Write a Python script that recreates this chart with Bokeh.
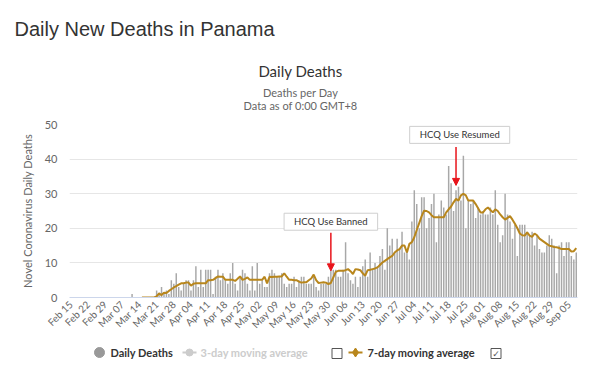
import math
import pandas as pd
from bokeh.plotting import figure
from bokeh.layouts import column
from bokeh.models import (Range1d, FixedTicker, Label, Arrow, NormalHead, ColumnDataSource)
from bokeh.core.properties import value
from bokeh.embed import file_html
from bokeh.resources import INLINE

# ---------------- data ----------------
first_day = "2020-02-15"
daily_deaths = [
    # Feb 15 - Feb 29
    0, 0, 0, 0, 0, 0, 0, 0, 0, 0, 0, 0, 0, 0, 0,
    # Mar
    0, 0, 0, 0, 0, 0, 0, 0, 0, 0, 1, 0, 0, 0, 0, 0, 0, 0, 0, 0,
    2, 1, 3, 1, 2, 1, 5, 4, 7, 3, 2,
    # Apr
    4, 5, 5, 2, 5, 9, 3, 8, 3, 8, 8, 8, 1, 6, 8, 5, 7, 5, 4, 7,
    10, 4, 2, 6, 8, 7, 4, 2, 9, 2,
    # May
    10, 4, 5, 3, 3, 7, 8, 7, 6, 6, 7, 4, 3, 4, 4, 6, 3, 5, 6, 6,
    4, 4, 4, 6, 3, 2, 4, 4, 4, 6, 8,
    # Jun
    8, 8, 6, 6, 8, 16, 7, 5, 4, 6, 3, 6, 9, 11, 6, 13, 8, 10, 9, 12,
    14, 8, 20, 15, 17, 13, 17, 14, 19, 13,
    # Jul
    14, 11, 22, 31, 27, 20, 29, 29, 20, 23, 27, 30, 16, 24, 28, 26, 24, 38, 33, 25,
    31, 32, 28, 41, 20, 28, 27, 28, 23, 26, 24,
    # Aug
    25, 24, 24, 26, 24, 31, 21, 16, 18, 30, 24, 22, 17, 21, 12, 21, 21, 21, 19, 18,
    19, 15, 18, 14, 13, 13, 15, 18, 17, 15, 7,
    # Sep 1 - Sep 8
    15, 16, 12, 16, 16, 12, 11, 13,
]

ma7_first_day = "2020-03-15"
ma7 = [
    # Mar 15 - Mar 31
    0, 0, 0, 0, 0, 0, 0.3, 1.2, 0.7, 1.4, 1.3, 1.9, 2.4, 2.9, 3.3, 3.7, 4.1,
    # Apr
    4.1, 4.3, 4.3, 3.4, 4.0, 4.1, 4.1, 4.1, 4.1, 4.1, 5.0, 5.0, 5.1, 5.6, 6.1, 6.0, 6.0, 5.1, 5.1, 5.1,
    5.1, 4.8, 5.4, 6.1, 5.1, 5.4, 5.8, 5.1, 5.1, 5.1,
    # May
    5.1, 5.1, 5.1, 6.0, 4.1, 6.0, 5.9, 6.0, 6.0, 6.1, 6.1, 7.0, 6.0, 5.1, 5.1, 5.0, 5.0, 4.6, 4.3, 4.4,
    4.4, 5.0, 5.5, 6.6, 5.0, 4.2, 4.3, 4.4, 4.3, 3.9, 4.2,
    # Jun
    5.8, 7.4, 7.7, 7.7, 7.7, 7.9, 8.2, 7.6, 6.8, 8.2, 8.1, 7.9, 7.0, 6.3, 7.9, 8.0, 8.2, 8.4, 8.7, 9.4,
    10.1, 10.6, 11.1, 11.6, 12.0, 13.0, 13.6, 14.0, 15.0, 15.0,
    # Jul
    13.0, 15.5, 16.0, 17.4, 19.5, 21.5, 23.5, 25.1, 25.0, 24.6, 23.8, 23.2, 23.2, 23.2, 23.2, 23.2,
    24.6, 25.5, 26.3, 27.5, 28.5, 28.0, 29.5, 30.0, 29.5, 28.0, 28.0, 28.0, 27.0, 25.8, 24.6,
    # Aug
    24.6, 25.5, 26.0, 25.3, 24.6, 25.5, 25.0, 24.0, 23.2, 22.5, 23.0, 23.5, 22.5, 21.3, 20.0, 18.5,
    18.0, 17.9, 18.8, 17.9, 17.5, 18.5, 18.0, 17.0, 16.5, 16.0, 15.5, 15.0, 14.8, 14.6, 14.5,
    # Sep 1 - Sep 8
    14.3, 14.0, 14.0, 14.0, 14.0, 13.3, 13.4, 14.3,
]

event_dates = ["2020-05-31", "2020-07-21"]
event_labels = ["HCQ Use Banned", "HCQ Use Resumed"]

legend_labels = ["Daily Deaths", "3-day moving average", "7-day moving average"]

# ---------------- derived ----------------
dates = pd.date_range(first_day, periods=len(daily_deaths), freq="D")
xi = list(range(len(dates)))
ma_off = (pd.Timestamp(ma7_first_day) - dates[0]).days
ma_x = [ma_off + k for k in range(len(ma7))]
tick_idx = list(range(0, len(dates), 7))
tick_text = {i: dates[i].strftime("%b %d") for i in tick_idx}
event_x = [(pd.Timestamp(d) - dates[0]).days for d in event_dates]

# ---------------- styling / layout constants ----------------
W = 584
HEAD_H = 116
BL, BR, BT, BB = 69, 7, 8, 41
FRAME_H = 173
MAIN_H = BT + FRAME_H + BB
LEG_H = 24
BAR_COLOR = "#a8a8a8"
MA_COLOR = "#b8861c"
FONT = "Lato"


def blank(h):
    f = figure(width=W, height=h, output_backend="svg", toolbar_location=None,
               x_range=Range1d(0, W), y_range=Range1d(h, 0),
               x_axis_type=None, y_axis_type=None, frame_align=False,
               min_border=0, min_border_left=0, min_border_right=0,
               min_border_top=0, min_border_bottom=0)
    f.outline_line_color = None
    f.xgrid.visible = False
    f.ygrid.visible = False
    return f


# ---------------- header ----------------
head = blank(HEAD_H)
head.text(x=[14], y=[28.5], text=["Daily New Deaths in Panama"], text_font=value("Liberation Sans"),
          text_font_size="20px", text_color="#333333", text_baseline="alphabetic")
head.text(x=[300], y=[70], text=["Daily Deaths"], text_font=value(FONT), text_font_size="15px",
          text_color="#333333", text_align="center", text_baseline="middle")
head.text(x=[300, 300], y=[92, 104.5], text=["Deaths per Day", "Data as of 0:00 GMT+8"],
          text_font=value(FONT), text_font_size="11px", text_color="#666666",
          text_align="center", text_baseline="middle")

# ---------------- main chart ----------------
p = figure(width=W, height=MAIN_H, output_backend="svg", toolbar_location=None,
           x_range=Range1d(-0.5, len(dates) - 0.5), y_range=Range1d(0, 50), frame_align=False,
           min_border_left=BL, min_border_right=BR, min_border_top=BT, min_border_bottom=BB)
p.outline_line_color = None
p.xgrid.visible = False
p.ygrid.grid_line_color = "#e6e6e6"

p.yaxis.ticker = FixedTicker(ticks=[0, 10, 20, 30, 40, 50])
p.yaxis.axis_label = "Novel Coronavirus Daily Deaths"
p.yaxis.axis_label_text_font = FONT
p.yaxis.axis_label_text_font_size = "11px"
p.yaxis.axis_label_text_font_style = "normal"
p.yaxis.axis_label_text_color = "#666666"
p.yaxis.axis_label_standoff = 8
p.yaxis.axis_line_color = None
p.yaxis.major_tick_line_color = None
p.yaxis.minor_tick_line_color = None
p.yaxis.major_tick_out = 0
p.yaxis.major_label_standoff = 12
p.yaxis.major_label_text_font = FONT
p.yaxis.major_label_text_font_size = "11px"
p.yaxis.major_label_text_color = "#666666"

p.xaxis.ticker = FixedTicker(ticks=tick_idx)
p.xaxis.major_label_overrides = tick_text
p.xaxis.major_label_orientation = math.pi / 4
p.xaxis.axis_line_color = "#ccd6eb"
p.xaxis.major_tick_line_color = None
p.xaxis.minor_tick_line_color = None
p.xaxis.major_tick_out = 0
p.xaxis.major_label_standoff = 5
p.xaxis.major_label_text_font = FONT
p.xaxis.major_label_text_font_size = "10px"
p.xaxis.major_label_text_color = "#666666"

src = ColumnDataSource(dict(x=xi, deaths=daily_deaths))
p.vbar(x="x", top="deaths", width=0.6, source=src, fill_color=BAR_COLOR, line_color=None)

ma_src = ColumnDataSource(dict(x=ma_x, ma7=ma7))
p.line(x="x", y="ma7", source=ma_src, line_color=MA_COLOR, line_width=2)

# event arrows and boxes
arrow_top = [18.7, 43.5]
arrow_tip = [7.7, 32.4]
box_y = [21.9, 47.0]
box_dx = [0.0, 1.5]
for xe, lab, top, tip, by, dx in zip(event_x, event_labels, arrow_top, arrow_tip, box_y, box_dx):
    p.add_layout(Arrow(end=NormalHead(size=7, fill_color="#e8141b", line_color="#e8141b"),
                       x_start=xe, y_start=top, x_end=xe, y_end=tip,
                       line_color="#e8141b", line_width=1.5))
    p.add_layout(Label(x=xe + dx, y=by, text=lab, text_align="center", text_baseline="middle",
                       text_font=FONT, text_font_size="9.5px", text_color="#333333",
                       background_fill_color="white", border_line_color="#cfcfcf",
                       padding=dict(left=10, right=10, top=3, bottom=3)))

# ---------------- legend row ----------------
leg = blank(LEG_H)
cy = 14
leg.scatter(x=[99], y=[cy], marker="circle", size=10, fill_color="#999999", line_color="#999999")
leg.text(x=[110], y=[cy], text=[legend_labels[0]], text_font=value(FONT), text_font_size="11px",
         text_font_style="bold", text_color="#333333", text_baseline="middle")
leg.line(x=[182, 196], y=[cy, cy], line_color="#cccccc", line_width=2)
leg.scatter(x=[189], y=[cy], marker="circle", size=7, fill_color="#cccccc", line_color="#cccccc")
leg.text(x=[200], y=[cy], text=[legend_labels[1]], text_font=value(FONT), text_font_size="11px",
         text_font_style="bold", text_color="#cccccc", text_baseline="middle")
leg.line(x=[348, 362], y=[cy, cy], line_color=MA_COLOR, line_width=2)
leg.scatter(x=[355], y=[cy], marker="diamond", size=9, fill_color=MA_COLOR, line_color=MA_COLOR)
leg.text(x=[367], y=[cy], text=[legend_labels[2]], text_font=value(FONT), text_font_size="11px",
         text_font_style="bold", text_color="#333333", text_baseline="middle")
leg.scatter(x=[336.5, 495.5], y=[cy + 1, cy + 1], marker="square", size=10,
            fill_color="white", line_color="#555555", line_width=1)
leg.text(x=[495.5], y=[cy + 1], text=["\u2713"], text_font=value("DejaVu Sans"), text_font_size="9px",
         text_color="#555555", text_align="center", text_baseline="middle")

layout = column(head, p, leg, spacing=0)
open("out.html", "w").write(file_html(layout, INLINE))
